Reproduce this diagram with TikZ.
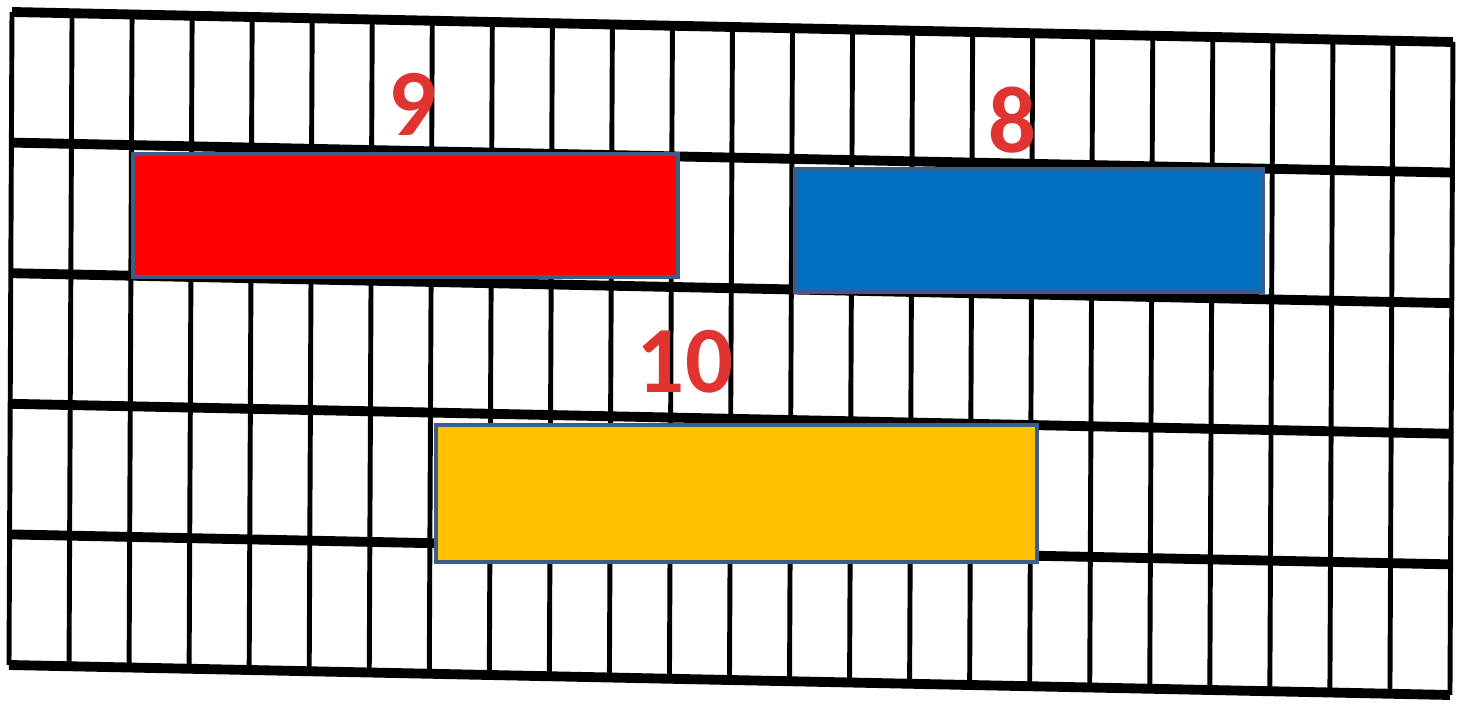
\documentclass[tikz,border=0pt]{standalone}
\usepackage{fontspec}
\setmainfont{Carlito}
\usepackage{xcolor}
\usepackage{tikz}
\usetikzlibrary{positioning}
\definecolor{barred}{RGB}{255, 0, 0}
\definecolor{barblue}{RGB}{0, 112, 192}
\definecolor{baryellow}{RGB}{255, 192, 0}
\definecolor{baredge}{RGB}{62, 92, 138}
\definecolor{numred}{RGB}{224, 52, 48}

\begin{document}
\begin{tikzpicture}[
    bar/.style={draw=baredge, line width=1.1pt, inner sep=0pt},
    numlabel/.style={text=numred, inner sep=0pt, font=\bfseries\fontsize{27}{27}\selectfont}
]
    \useasboundingbox (0,0) rectangle (14.6,7.07);

    % Grid (slightly skewed, as scanned)
    \begin{scope}[shift={(0.12,6.95)}, x={(0.6004cm,-0.0125cm)}, y={(-0.006cm,-1.306cm)}]
        \foreach \i in {0,...,24}
            \draw[line width=1.4pt] (\i,0) -- (\i,5);
        \foreach \j in {0,...,5}
            \draw[line width=2.8pt] (0,\j) -- (24,\j);
    \end{scope}

    % Bars
    \node[bar, fill=barred, minimum width=5.45cm, minimum height=1.23cm] (red) at (4.055,4.915) {};
    \node[bar, fill=barblue, minimum width=4.68cm, minimum height=1.23cm] (blue) at (10.29,4.765) {};
    \node[bar, fill=baryellow, minimum width=6.01cm, minimum height=1.37cm] (yellow) at (7.365,2.135) {};

    % Lengths
    \node[numlabel] (nine) at (4.13,6.03) {9};
    \node[numlabel] (eight) at (10.13,5.87) {8};
    \node[numlabel] (ten) at (6.85,3.45) {10};
\end{tikzpicture}
\end{document}
